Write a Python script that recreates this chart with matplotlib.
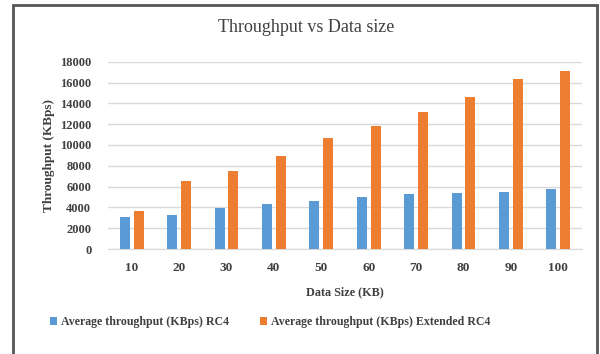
import numpy as np
import matplotlib
matplotlib.use('Agg')
import matplotlib.pyplot as plt
from matplotlib.patches import Rectangle

# data
data_size = ['10', '20', '30', '40', '50', '60', '70', '80', '90', '100']
rc4 = [3050, 3240, 3910, 4360, 4590, 4970, 5260, 5380, 5450, 5740]
extended_rc4 = [3680, 6540, 7470, 8940, 10700, 11830, 13200, 14590, 16320, 17090]
y_ticks = [0, 2000, 4000, 6000, 8000, 10000, 12000, 14000, 16000, 18000]

blue = '#5b9bd5'
orange = '#ed7d31'
text_col = '#404040'

plt.rcParams['font.family'] = ['Liberation Serif', 'DejaVu Serif']

fig = plt.figure(figsize=(6, 3.54), dpi=100)
ax = fig.add_axes([0.18, 0.2966, 0.79, 0.5291])

x = np.arange(len(data_size))
w = 0.21
ax.bar(x - 0.145, rc4, width=w, color=blue, label='Average throughput (KBps) RC4', zorder=3)
ax.bar(x + 0.145, extended_rc4, width=w, color=orange,
       label='Average throughput (KBps) Extended RC4', zorder=3)

ax.set_xlim(-0.5, len(data_size) - 0.5)
ax.set_ylim(0, 18000)
ax.set_yticks(y_ticks)
ax.set_yticklabels([str(v) for v in y_ticks], fontsize=9, fontweight='bold', color=text_col)
ax.set_xticks(x)
ax.set_xticklabels(data_size, fontsize=9.5, fontweight='bold', color=text_col)
ax.tick_params(axis='both', length=0)
ax.tick_params(axis='y', pad=12)
ax.tick_params(axis='x', pad=9)
ax.yaxis.grid(True, color='#d9d9d9', linewidth=1, zorder=0)

for s in ['top', 'right', 'left']:
    ax.spines[s].set_visible(False)
ax.spines['bottom'].set_color('#d9d9d9')

fig.text(0.51, 1 - 27 / 354, 'Throughput vs Data size', fontsize=13, color=text_col,
         ha='center', va='center')
ax.set_xlabel('Data Size (KB)', fontsize=8.7, fontweight='bold', color=text_col, labelpad=9)
ax.set_ylabel('Throughput (KBps)', fontsize=9.5, fontweight='bold', color=text_col, labelpad=4)

leg = fig.legend(loc='center', bbox_to_anchor=(0.45, 0.09), ncol=2, frameon=False,
                 fontsize=8.6, handlelength=0.6, handleheight=0.6, handletextpad=0.3,
                 columnspacing=2.6)
for t in leg.get_texts():
    t.set_color(text_col)
    t.set_fontweight('bold')

# chart border (bottom edge falls outside the image)
fig.patches.append(Rectangle((13 / 600, -0.05), 584 / 600, 1.05 - 5 / 354,
                             transform=fig.transFigure, fill=False,
                             edgecolor='#555555', linewidth=2))

fig.savefig('out.png', dpi=100)
